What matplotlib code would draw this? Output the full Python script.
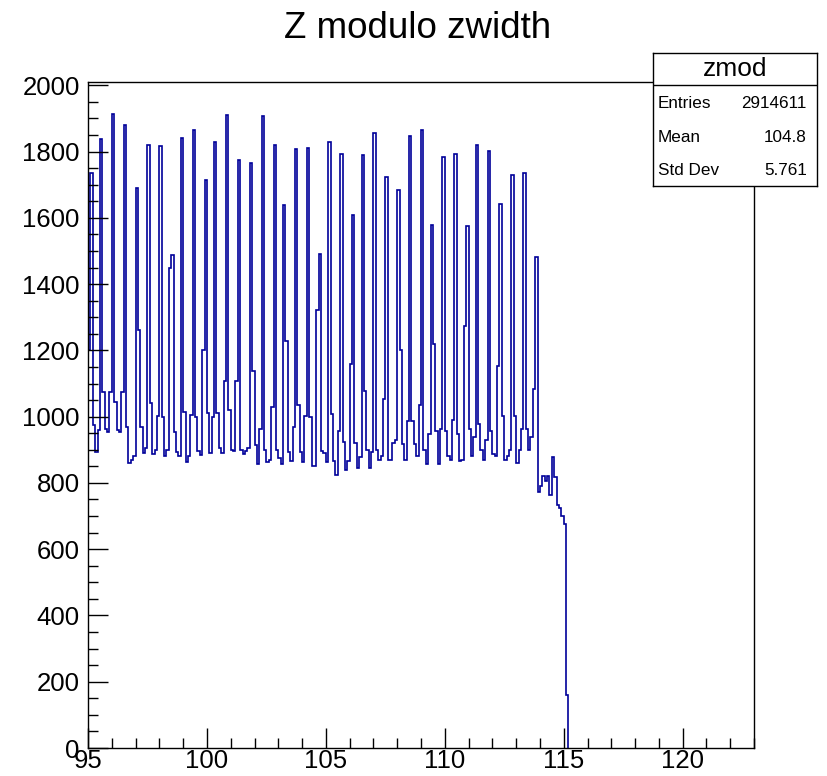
import matplotlib
matplotlib.use("Agg")
import matplotlib.pyplot as plt
import numpy as np

plt.rcParams['font.family'] = ['Liberation Sans', 'DejaVu Sans']

# histogram "zmod": 0.1 wide bins starting at 95
x_min = 95.0
bin_width = 0.1
x_max = 123.0

counts_95_100 = [1200, 1736, 975, 892, 960, 1838, 1073, 963, 953, 1075,
                 1914, 1043, 960, 955, 1075, 1880, 968, 860, 870, 880,
                 1691, 1262, 968, 890, 905, 1821, 1040, 888, 898, 1003,
                 1816, 1000, 880, 900, 1450, 1487, 953, 893, 880, 1841,
                 1013, 862, 880, 1005, 1864, 1000, 895, 885, 1202, 1713]
counts_100_105 = [1010, 890, 1000, 1828, 1010, 905, 890, 1108, 1910, 1020,
                  900, 895, 1108, 1776, 898, 888, 895, 905, 1766, 1139,
                  913, 858, 963, 1906, 900, 862, 870, 1028, 1821, 898,
                  875, 858, 1639, 1229, 893, 865, 968, 1807, 1035, 892,
                  862, 1003, 1811, 1000, 850, 850, 1321, 1490, 897, 890]
counts_105_110 = [862, 1829, 1009, 865, 825, 958, 1794, 925, 840, 865,
                  1160, 1610, 922, 845, 878, 1789, 1078, 898, 845, 893,
                  1856, 898, 870, 880, 1054, 1723, 870, 870, 922, 930,
                  1683, 1202, 918, 870, 988, 1846, 988, 918, 880, 1035,
                  1864, 898, 858, 948, 1578, 1220, 958, 858, 963, 1784]
counts_110_115 = [958, 880, 870, 990, 1793, 948, 865, 870, 1274, 1575,
                  964, 880, 938, 1820, 977, 899, 870, 930, 1802, 958,
                  888, 880, 1154, 1641, 1003, 870, 880, 899, 1730, 1003,
                  860, 899, 964, 1735, 964, 900, 940, 1082, 1482, 772,
                  790, 820, 805, 820, 765, 877, 817, 732, 725, 700,
                  675, 160]

stat_labels = ["Entries", "Mean", "Std Dev"]
stat_values = ["2914611", "104.8", "5.761"]

counts = np.array(counts_95_100 + counts_100_105 + counts_105_110 + counts_110_115)
edges = x_min + bin_width * np.arange(len(counts) + 1)

W, H = 827, 776
fig = plt.figure(figsize=(W / 100, H / 100), dpi=100)

# frame in pixel coords: x 88..754, y 82..748
ax = fig.add_axes([88 / W, 1 - 748 / H, (754 - 88) / W, (748 - 82) / H])
ax.stairs(counts, edges, baseline=0, color='#000099', lw=1.2)

ax.set_xlim(x_min, x_max)
ax.set_ylim(0, 2010)
ax.set_xticks(np.arange(95, 121, 5))
ax.set_xticks(np.arange(95, 124, 1), minor=True)
ax.set_yticks(np.arange(0, 2001, 200))
ax.set_yticks(np.arange(0, 2001, 50), minor=True)
ax.tick_params(which='both', direction='in', top=False, right=False,
               width=1.0, colors='black', labelsize=18.5)
ax.tick_params(which='major', length=14.5)
ax.tick_params(which='minor', length=7.2)
ax.tick_params(axis='y', pad=6)
ax.tick_params(axis='x', pad=1)
for s in ax.spines.values():
    s.set_linewidth(1.0)
    s.set_color('black')

fig.text(418 / W, 1 - 28 / H, "Z modulo zwidth", ha='center', va='center',
         fontsize=26.5)

# stats box
sx0, sx1, sy0, sy1 = 653, 817, 53, 186
st = fig.add_axes([sx0 / W, 1 - sy1 / H, (sx1 - sx0) / W, (sy1 - sy0) / H])
st.set_xlim(sx0, sx1)
st.set_ylim(sy1, sy0)
st.set_xticks([])
st.set_yticks([])
for s in st.spines.values():
    s.set_linewidth(1.0)
    s.set_color('black')
st.axhline(84.5, color='black', lw=1.0)
st.text((sx0 + sx1) / 2, 68.5, "zmod", ha='center', va='center', fontsize=19)
row_y = [103.5, 137, 170.5]
for yc, lab, val in zip(row_y, stat_labels, stat_values):
    st.text(658, yc, lab, ha='left', va='center', fontsize=12.3)
    st.text(807, yc, val, ha='right', va='center', fontsize=12.3)

fig.savefig("out.png", dpi=100)
